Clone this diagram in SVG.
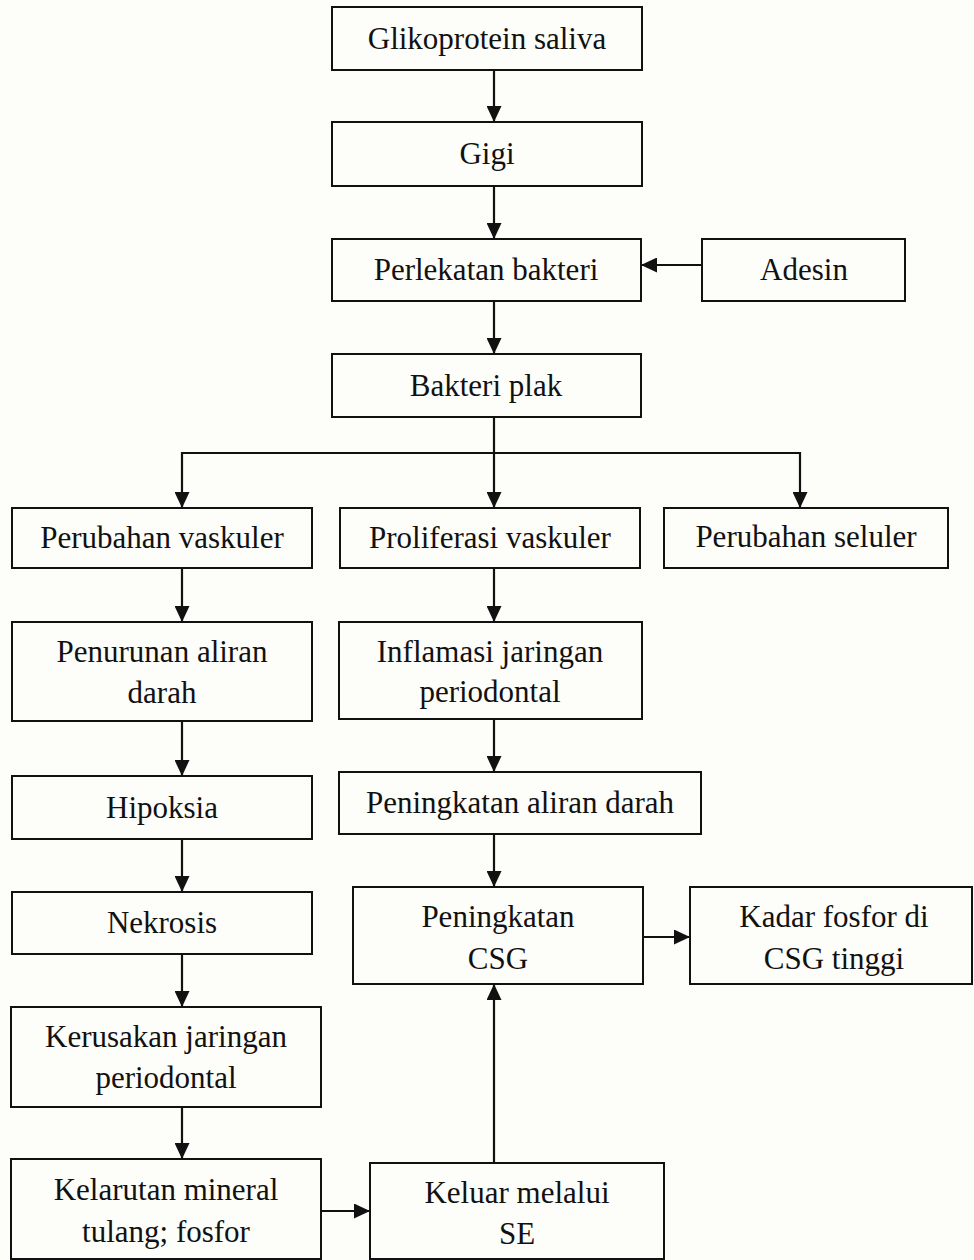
<svg xmlns="http://www.w3.org/2000/svg" width="974" height="1260" viewBox="0 0 974 1260">
<style>
.box{fill:#fdfdf9;stroke:#111;stroke-width:2}
.t{font-family:"Liberation Serif","Times New Roman",serif;font-size:31px;fill:#111;text-anchor:middle}
.c{fill:none;stroke:#111;stroke-width:2.2}
</style>
<defs>
<marker id="ah" markerUnits="userSpaceOnUse" markerWidth="16" markerHeight="15" refX="16" refY="7.5" orient="auto">
<path d="M0,0 L16,7.5 L0,15 Z" fill="#111"/>
</marker>
</defs>
<rect x="0" y="0" width="974" height="1260" fill="#fdfdf9"/>
<g id="connectors">
<line class="c" x1="494" y1="70" x2="494" y2="122" marker-end="url(#ah)"/>
<line class="c" x1="494" y1="186" x2="494" y2="239" marker-end="url(#ah)"/>
<line class="c" x1="702" y1="265" x2="641" y2="265" marker-end="url(#ah)"/>
<line class="c" x1="494" y1="301" x2="494" y2="354" marker-end="url(#ah)"/>
<polyline class="c" points="494,417 494,453"/>
<polyline class="c" points="182,453 800,453"/>
<line class="c" x1="182" y1="452" x2="182" y2="508" marker-end="url(#ah)"/>
<line class="c" x1="494" y1="452" x2="494" y2="508" marker-end="url(#ah)"/>
<line class="c" x1="800" y1="452" x2="800" y2="508" marker-end="url(#ah)"/>
<line class="c" x1="182" y1="568" x2="182" y2="622" marker-end="url(#ah)"/>
<line class="c" x1="494" y1="568" x2="494" y2="622" marker-end="url(#ah)"/>
<line class="c" x1="182" y1="721" x2="182" y2="776" marker-end="url(#ah)"/>
<line class="c" x1="182" y1="839" x2="182" y2="892" marker-end="url(#ah)"/>
<line class="c" x1="182" y1="954" x2="182" y2="1007" marker-end="url(#ah)"/>
<line class="c" x1="182" y1="1107" x2="182" y2="1159" marker-end="url(#ah)"/>
<line class="c" x1="494" y1="719" x2="494" y2="772" marker-end="url(#ah)"/>
<line class="c" x1="494" y1="834" x2="494" y2="887" marker-end="url(#ah)"/>
<line class="c" x1="643" y1="937" x2="690" y2="937" marker-end="url(#ah)"/>
<line class="c" x1="321" y1="1211" x2="370" y2="1211" marker-end="url(#ah)"/>
<line class="c" x1="494" y1="1163" x2="494" y2="984" marker-end="url(#ah)"/>
</g>
<g id="glikoprotein"><rect class="box" x="332" y="7" width="310" height="63"/><text class="t" x="487" y="49">Glikoprotein saliva</text></g>
<g id="gigi"><rect class="box" x="332" y="122" width="310" height="64"/><text class="t" x="487" y="164">Gigi</text></g>
<g id="perlekatan"><rect class="box" x="332" y="239" width="309" height="62"/><text class="t" x="486" y="280">Perlekatan bakteri</text></g>
<g id="adesin"><rect class="box" x="702" y="239" width="203" height="62"/><text class="t" x="804" y="280">Adesin</text></g>
<g id="bakteri-plak"><rect class="box" x="332" y="354" width="309" height="63"/><text class="t" x="486" y="396">Bakteri plak</text></g>
<g id="perubahan-vaskuler"><rect class="box" x="12" y="508" width="300" height="60"/><text class="t" x="162" y="548">Perubahan vaskuler</text></g>
<g id="proliferasi-vaskuler"><rect class="box" x="340" y="508" width="300" height="60"/><text class="t" x="490" y="548">Proliferasi vaskuler</text></g>
<g id="perubahan-seluler"><rect class="box" x="664" y="508" width="284" height="60"/><text class="t" x="806" y="547">Perubahan seluler</text></g>
<g id="penurunan"><rect class="box" x="12" y="622" width="300" height="99"/><text class="t" x="162" y="662">Penurunan aliran</text><text class="t" x="162" y="703">darah</text></g>
<g id="inflamasi"><rect class="box" x="339" y="622" width="303" height="97"/><text class="t" x="490" y="662">Inflamasi jaringan</text><text class="t" x="490" y="702">periodontal</text></g>
<g id="hipoksia"><rect class="box" x="12" y="776" width="300" height="63"/><text class="t" x="162" y="818">Hipoksia</text></g>
<g id="peningkatan-aliran"><rect class="box" x="339" y="772" width="362" height="62"/><text class="t" x="520" y="813">Peningkatan aliran darah</text></g>
<g id="nekrosis"><rect class="box" x="12" y="892" width="300" height="62"/><text class="t" x="162" y="933">Nekrosis</text></g>
<g id="peningkatan-csg"><rect class="box" x="353" y="887" width="290" height="97"/><text class="t" x="498" y="927">Peningkatan</text><text class="t" x="498" y="969">CSG</text></g>
<g id="kadar-fosfor"><rect class="box" x="690" y="887" width="282" height="97"/><text class="t" x="834" y="927">Kadar fosfor di</text><text class="t" x="834" y="969">CSG tinggi</text></g>
<g id="kerusakan"><rect class="box" x="11" y="1007" width="310" height="100"/><text class="t" x="166" y="1047">Kerusakan jaringan</text><text class="t" x="166" y="1088">periodontal</text></g>
<g id="kelarutan"><rect class="box" x="11" y="1159" width="310" height="100"/><text class="t" x="166" y="1200">Kelarutan mineral</text><text class="t" x="166" y="1242">tulang; fosfor</text></g>
<g id="keluar"><rect class="box" x="370" y="1163" width="294" height="96"/><text class="t" x="517" y="1203">Keluar melalui</text><text class="t" x="517" y="1244">SE</text></g>
</svg>
